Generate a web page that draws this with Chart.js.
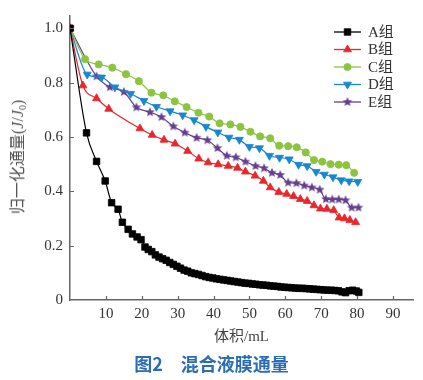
<!DOCTYPE html>
<html><head><meta charset="utf-8">
<script src="https://cdn.jsdelivr.net/npm/chart.js@4.4.1/dist/chart.umd.min.js"></script>
<style>
html,body{margin:0;padding:0;background:#fff;}
#wrap{position:relative;width:423px;height:380px;overflow:hidden;background:#fff;}
canvas{position:absolute;left:0;top:0;}
.ytitle{position:absolute;left:19px;top:157px;transform:translate(-50%,-50%) rotate(-90deg);white-space:nowrap;font-size:16px;font-family:'Liberation Serif','Noto Sans CJK SC',serif;color:#555;line-height:1;}
.ytitle sub{font-size:10px;vertical-align:-3px;}
.caption{position:absolute;left:0;width:423px;top:351px;text-align:center;font-size:18px;font-weight:bold;font-family:'Noto Sans CJK SC',sans-serif;color:#2a6db5;line-height:24px;}
</style></head><body>
<div id="wrap"><canvas id="c" width="423" height="380"></canvas>
<div class="ytitle">归一化通量(<i>J</i>/<i>J</i><sub>0</sub>)</div>
<div class="caption">图2　混合液膜通量</div></div>
<script>
const seriesNames = ['A组','B组','C组','D组','E组'];
const xTicks = [10,20,30,40,50,60,70,80,90];
const yTicks = [0,0.2,0.4,0.6,0.8,1.0];

const xA = [0,4.6,7.4,9.8,11.6,13.4,14.6,16.2,17.4,18.7,19.8,20.9,21.8,22.8,23.8,24.8,25.8,26.8,27.8,28.8,29.8,30.8,31.8,32.8,33.8,34.8,35.8,36.8,37.8,38.8,39.8,40.8,41.8,42.8,43.8,44.8,45.8,46.8,47.8,48.8,49.8,50.8,51.8,52.8,53.8,54.8,55.8,56.8,57.8,58.8,59.8,60.8,61.8,62.8,63.8,64.8,65.8,66.8,67.8,68.8,69.8,70.8,71.8,72.8,73.8,74.8,75.8,76.8,77.8,78.8,79.8,80.5];
const yA = [1.0,0.615,0.51,0.438,0.358,0.334,0.286,0.26,0.243,0.232,0.222,0.195,0.186,0.178,0.166,0.158,0.152,0.146,0.138,0.131,0.124,0.117,0.110,0.106,0.100,0.097,0.094,0.090,0.086,0.083,0.081,0.078,0.076,0.074,0.072,0.070,0.068,0.066,0.064,0.062,0.061,0.059,0.058,0.056,0.055,0.054,0.052,0.051,0.050,0.048,0.047,0.046,0.045,0.044,0.043,0.043,0.042,0.041,0.040,0.039,0.038,0.037,0.036,0.036,0.035,0.034,0.030,0.027,0.034,0.036,0.033,0.028];

const xB = [0,3.6,7.4,10.8,19.5,22.9,26.2,29.3,32.8,35.9,38.5,41.3,44.1,46.7,48.9,51.6,53.9,55.8,58.2,60.4,62.3,64.2,66.1,68.0,69.8,71.6,73.5,75.0,76.5,78.0,79.6];
const yB = [1.0,0.789,0.742,0.703,0.631,0.607,0.589,0.575,0.548,0.520,0.506,0.499,0.493,0.486,0.472,0.457,0.438,0.414,0.397,0.390,0.382,0.371,0.364,0.348,0.336,0.335,0.330,0.303,0.300,0.294,0.286];

const xC = [0,4.2,8,11.8,15.6,19.2,22.7,26,29.2,32.5,35.8,38.8,41.7,44.7,47.5,50.3,53,55.8,58.3,60.8,63.2,65.7,68,70.3,72.6,74.9,77,79.2];
const yC = [1.0,0.886,0.867,0.855,0.831,0.805,0.763,0.753,0.731,0.710,0.689,0.675,0.650,0.646,0.637,0.619,0.602,0.595,0.568,0.566,0.562,0.543,0.515,0.509,0.500,0.498,0.496,0.468];

const xD = [0,4.8,8.8,12.5,16.9,20.6,24.1,27.9,31.4,34.6,37.9,41.2,44.3,47.2,50,52.8,55.6,58.4,61.1,63.7,66.1,68.6,70.9,73.3,75.6,77.8,80.2];
const yD = [1.0,0.830,0.819,0.783,0.759,0.733,0.711,0.695,0.680,0.662,0.638,0.617,0.598,0.590,0.564,0.559,0.531,0.524,0.518,0.498,0.493,0.472,0.462,0.452,0.441,0.437,0.435];

const xE = [0,7.4,11.1,15,18.5,22.3,25.5,28.8,32,35.3,38.3,41.1,43.7,46.2,48.9,51.7,54.1,56.3,58.6,60.8,63.1,65.3,67.4,69.6,71.3,73.1,74.9,76.8,78.5,80.4];
const yE = [1.0,0.823,0.783,0.766,0.709,0.691,0.673,0.639,0.616,0.597,0.588,0.559,0.531,0.525,0.509,0.493,0.485,0.468,0.460,0.432,0.430,0.421,0.414,0.406,0.371,0.370,0.370,0.367,0.340,0.340];

const colors = ['#000000','#e8262b','#8cc43f','#1787cf','#653f8c'];

function pts(xs, ys){ return xs.map((x,i)=>({x:x, y:ys[i]})); }
function makeStar(color, R){
  const s = Math.ceil(R*2+2);
  const c = document.createElement('canvas'); c.width = s; c.height = s;
  const g = c.getContext('2d'); g.fillStyle = color; g.beginPath();
  for (let k=0;k<10;k++){ const r = k%2 ? R*0.45 : R; const a = -Math.PI/2 + k*Math.PI/5; g.lineTo(s/2 + r*Math.cos(a), s/2 + r*Math.sin(a)); }
  g.closePath(); g.fill(); return c;
}
const starImg = makeStar(colors[4], 5);

const styles = [
  {pointStyle:'rect', radius:4.6, rotation:0},
  {pointStyle:'triangle', radius:4.6, rotation:0},
  {pointStyle:'circle', radius:3.6, rotation:0},
  {pointStyle:'triangle', radius:4.6, rotation:180},
  {pointStyle:starImg, radius:5, rotation:0}
];
const allX = [xA,xB,xC,xD,xE], allY = [yA,yB,yC,yD,yE];
const datasets = seriesNames.map((n,i)=>({
  label:n, data:pts(allX[i], allY[i]),
  borderColor:colors[i], backgroundColor:colors[i], borderWidth:1.2,
  pointStyle:styles[i].pointStyle, pointRadius:styles[i].radius, pointRotation:styles[i].rotation,
  pointBackgroundColor:colors[i], pointBorderColor:colors[i], pointBorderWidth:0.8,
  cubicInterpolationMode:'monotone', fill:false
}));

function drawMarker(ctx, st, x, y, color){
  if (Chart.helpers && Chart.helpers.drawPoint){
    ctx.fillStyle = color; ctx.strokeStyle = color; ctx.lineWidth = 0.8;
    Chart.helpers.drawPoint(ctx, {pointStyle:st.pointStyle, rotation:st.rotation, radius:st.radius, borderWidth:0.8}, x, y);
  }
}

const insideTicks = {
  id:'insideTicks',
  afterDraw(chart){
    const {ctx, chartArea:a, scales:{x,y}} = chart;
    ctx.save(); ctx.strokeStyle = '#666'; ctx.lineWidth = 1.2; ctx.beginPath();
    xTicks.forEach(v=>{ const p = Math.round(x.getPixelForValue(v))+0.5; ctx.moveTo(p, a.bottom); ctx.lineTo(p, a.bottom-4); });
    yTicks.forEach(v=>{ if (v===0) return; const p = Math.round(y.getPixelForValue(v))+0.5; ctx.moveTo(a.left, p); ctx.lineTo(a.left+4, p); });
    ctx.stroke(); ctx.restore();
  }
};
const customLegend = {
  id:'customLegend',
  afterDraw(chart){
    const ctx = chart.ctx; ctx.save();
    chart.data.datasets.forEach((ds,i)=>{
      const yy = 32 + i*17.5;
      ctx.strokeStyle = ds.borderColor; ctx.lineWidth = 1.3;
      ctx.beginPath(); ctx.moveTo(334, yy); ctx.lineTo(361, yy); ctx.stroke();
      drawMarker(ctx, styles[i], 347.5, yy, ds.borderColor);
      ctx.fillStyle = '#333'; ctx.font = "15px 'Liberation Serif','Noto Sans CJK SC'";
      ctx.textBaseline = 'middle'; ctx.textAlign = 'left';
      ctx.fillText(ds.label, 368, yy+1);
    });
    ctx.restore();
  }
};

new Chart(document.getElementById('c'), {
  type:'line',
  data:{datasets:datasets},
  plugins:[insideTicks, customLegend],
  options:{
    responsive:false, animation:false, devicePixelRatio:1,
    layout:{padding:{left:0,right:10,top:10,bottom:0}},
    plugins:{legend:{display:false}, tooltip:{enabled:false}},
    scales:{
      x:{type:'linear', min:0, max:95.6,
        afterBuildTicks:s=>{ s.ticks = xTicks.map(v=>({value:v})); },
        afterFit:s=>{ s.height = 80; },
        grid:{display:true, drawOnChartArea:false, drawTicks:false},
        border:{display:true, color:'#666', width:1.5},
        ticks:{font:{family:"'Liberation Serif'", size:15}, color:'#333', padding:5, maxRotation:0, autoSkip:false},
        title:{display:true, text:'体积/mL', font:{family:"'Liberation Serif','Noto Sans CJK SC'", size:15}, color:'#444', padding:{top:0,bottom:34}}
      },
      y:{type:'linear', min:0, max:1.045,
        afterBuildTicks:s=>{ s.ticks = yTicks.map(v=>({value:v})); },
        afterFit:s=>{ s.width = 70; },
        grid:{display:true, drawOnChartArea:false, drawTicks:false},
        border:{display:true, color:'#666', width:1.5},
        ticks:{font:{family:"'Liberation Serif'", size:15}, color:'#333', padding:7,
          callback:v=> v===0 ? '0' : v.toFixed(1)}
      }
    }
  }
});
</script>
</body></html>
